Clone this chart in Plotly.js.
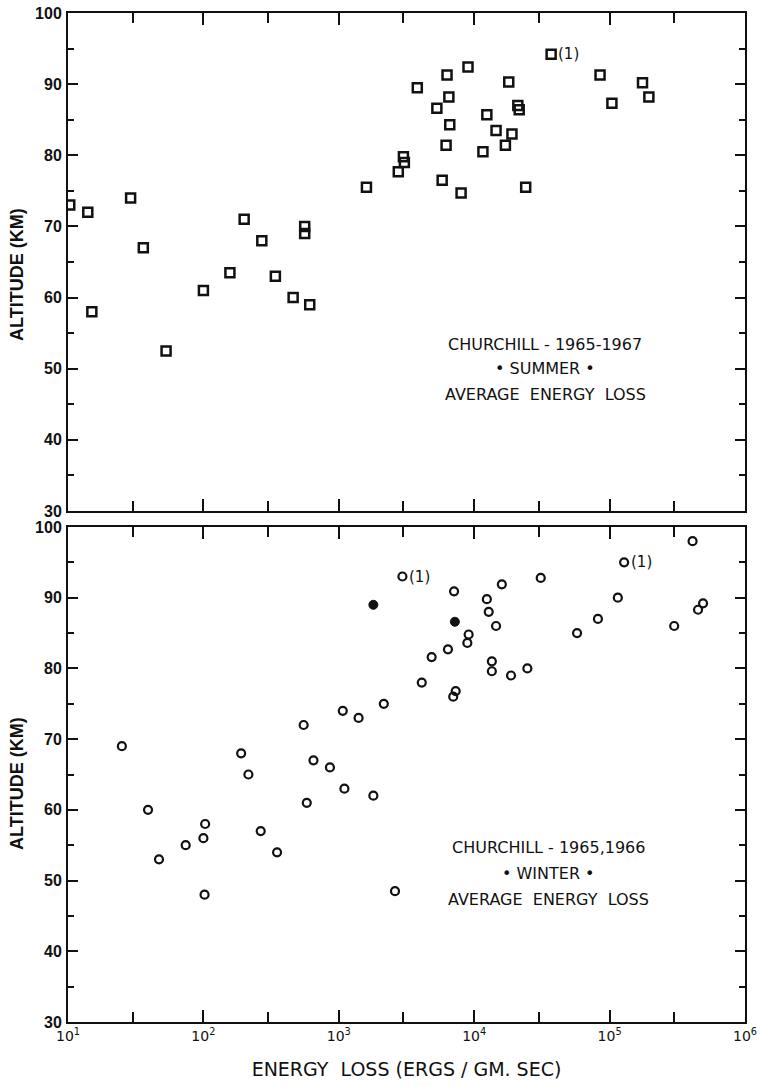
<!DOCTYPE html>
<html>
<head>
<meta charset="utf-8">
<script src="https://cdn.plot.ly/plotly-3.0.1.min.js"></script>
<style>html,body{margin:0;padding:0;background:#fff;}#chart{width:757px;height:1087px;}</style>
</head>
<body>
<div id="chart"></div>
<script>
// ---- data ----
const summerEnergy = [10.3, 14, 29, 36, 15, 53, 100, 157, 200, 270, 340, 460, 560, 560, 610, 1600, 2750, 3000, 3050, 3800, 5300, 5800, 6200, 6300, 6500, 6600, 8000, 9000, 11600, 12400, 14500, 17000, 18000, 19000, 21000, 21500, 24000, 37000, 85000, 104000, 175000, 195000];
const summerAlt    = [73, 72, 74, 67, 58, 52.5, 61, 63.5, 71, 68, 63, 60, 70, 69, 59, 75.5, 77.7, 79.8, 79, 89.5, 86.6, 76.5, 81.4, 91.3, 88.2, 84.3, 74.7, 92.4, 80.5, 85.7, 83.5, 81.4, 90.3, 83, 87, 86.4, 75.5, 94.2, 91.3, 87.3, 90.2, 88.2];

const winterEnergy = [25, 39, 47, 74, 100, 103, 102, 190, 215, 265, 350, 550, 580, 650, 860, 1070, 1100, 1400, 1800, 2150, 2600, 2950, 4100, 4850, 6400, 7000, 7300, 7100, 8900, 9100, 12400, 12800, 13500, 13500, 14500, 16000, 18700, 24700, 31000, 57500, 82000, 115000, 128000, 300000, 410000, 450000, 490000];
const winterAlt    = [69, 60, 53, 55, 56, 58, 48, 68, 65, 57, 54, 72, 61, 67, 66, 74, 63, 73, 62, 75, 48.5, 93, 78, 81.6, 82.7, 76, 76.8, 90.9, 83.6, 84.8, 89.8, 88, 81, 79.6, 86, 91.9, 79, 80, 92.8, 85, 87, 90, 95, 86, 98, 88.3, 89.2];
const winterFilledEnergy = [1800, 7200];
const winterFilledAlt    = [89, 86.6];

// points carrying a "(1)" note
const summerNoteEnergy = [37000];
const summerNoteAlt    = [94.2];
const winterNoteEnergy = [2950, 128000];
const winterNoteAlt    = [93, 95];

const xTickVals = [10, 100, 1000, 10000, 100000, 1000000];
const xTickText = ['10<sup>1</sup>', '10<sup>2</sup>', '10<sup>3</sup>', '10<sup>4</sup>', '10<sup>5</sup>', '10<sup>6</sup>'];
const xMinorVals = [30, 300, 3000, 30000, 300000];
const yTickVals = [30, 40, 50, 60, 70, 80, 90, 100];

const summerLabel = ['CHURCHILL - 1965-1967', '\u2022 SUMMER \u2022', 'AVERAGE  ENERGY  LOSS'];
const winterLabel = ['CHURCHILL - 1965,1966', '\u2022 WINTER \u2022', 'AVERAGE  ENERGY  LOSS'];

// ---- layout helpers (pixel -> paper) ----
const L = 68, R = 12, T = 13, B = 65, W = 757, H = 1087;
const PW = W - L - R, PH = H - T - B;
const xp = px => (px - L) / PW;
const yp = py => (H - B - py) / PH;

const ink = '#111';
const tickFont = {family: 'Liberation Sans, Arial, sans-serif', size: 16, color: ink, weight: 'bold'};

const yCommon = {
  range: [30, 100], tickvals: yTickVals, ticks: 'inside', ticklen: 10, tickwidth: 2,
  tickcolor: ink, showline: true, linecolor: ink, linewidth: 2, mirror: 'ticks',
  showgrid: false, zeroline: false, tickfont: tickFont, ticklabelstandoff: 1,
  minor: {dtick: 5, ticks: 'inside', ticklen: 6, tickwidth: 2, tickcolor: ink, showgrid: false}
};
const xCommon = {
  type: 'log', range: [1, 6], tickmode: 'array', tickvals: xTickVals, ticktext: xTickText,
  ticks: 'inside', ticklen: 12, tickwidth: 2, tickcolor: ink, showline: true, linecolor: ink,
  linewidth: 2, mirror: 'ticks', showgrid: false, zeroline: false, ticklabeloverflow: 'allow',
  tickfont: {family: 'DejaVu Sans, sans-serif', size: 14, color: ink},
  minor: {tickmode: 'array', tickvals: xMinorVals, ticks: 'inside', ticklen: 10, tickwidth: 2, tickcolor: ink, showgrid: false}
};

const traces = [
  {x: summerEnergy, y: summerAlt, xaxis: 'x2', yaxis: 'y', mode: 'markers', type: 'scatter',
   marker: {symbol: 'square-open', size: 9, color: ink, line: {width: 2.5, color: ink}}, hoverinfo: 'x+y'},
  {x: winterEnergy, y: winterAlt, xaxis: 'x', yaxis: 'y2', mode: 'markers', type: 'scatter',
   marker: {symbol: 'circle-open', size: 8, color: ink, line: {width: 2.2, color: ink}}, hoverinfo: 'x+y'},
  {x: winterFilledEnergy, y: winterFilledAlt, xaxis: 'x', yaxis: 'y2', mode: 'markers', type: 'scatter',
   marker: {symbol: 'circle', size: 9, color: ink, line: {width: 1, color: ink}}, hoverinfo: 'x+y'}
];

const annFont = {family: 'DejaVu Sans, sans-serif', size: 16, color: ink};
const annotations = [];
function block(lines, cx, ys) {
  lines.forEach((t, i) => annotations.push({
    text: t, xref: 'paper', yref: 'paper', x: xp(cx), y: yp(ys[i]),
    xanchor: 'center', yanchor: 'middle', showarrow: false, font: annFont
  }));
}
block(summerLabel, 545, [344, 369, 394]);
block(winterLabel, 548, [847, 873, 899]);

function notes(xs, ys, xr, yr) {
  xs.forEach((v, i) => annotations.push({
    text: '(1)', xref: xr, yref: yr, x: Math.log10(v), y: ys[i], xanchor: 'left', yanchor: 'middle',
    xshift: 5, showarrow: false, font: {family: 'DejaVu Sans, sans-serif', size: 15, color: ink}
  }));
}
notes(summerNoteEnergy, summerNoteAlt, 'x2', 'y');
notes(winterNoteEnergy, winterNoteAlt, 'x', 'y2');

// y titles
[275, 784].forEach(cy => annotations.push({
  text: 'ALTITUDE (KM)', xref: 'paper', yref: 'paper', x: xp(17), y: yp(cy),
  xanchor: 'center', yanchor: 'middle', textangle: -90, showarrow: false,
  font: {family: 'Liberation Sans, Arial, sans-serif', size: 18, color: ink, weight: 'bold'}
}));

const layout = {
  width: W, height: H, margin: {l: L, r: R, t: T, b: B}, showlegend: false,
  paper_bgcolor: '#fff', plot_bgcolor: '#fff',
  xaxis: Object.assign({}, xCommon, {anchor: 'y2', domain: [0, 1],
    title: {text: 'ENERGY  LOSS (ERGS / GM. SEC)', standoff: 20,
            font: {family: 'DejaVu Sans, sans-serif', size: 19, color: ink}}}),
  xaxis2: Object.assign({}, xCommon, {anchor: 'y', matches: 'x', showticklabels: false, domain: [0, 1]}),
  yaxis: Object.assign({}, yCommon, {domain: [(1022 - 511) / PH, 1], anchor: 'x2'}),
  yaxis2: Object.assign({}, yCommon, {domain: [0, (1022 - 527) / PH], anchor: 'x'}),
  annotations: annotations
};

Plotly.newPlot('chart', traces, layout, {displayModeBar: false, staticPlot: true});
</script>
</body>
</html>
